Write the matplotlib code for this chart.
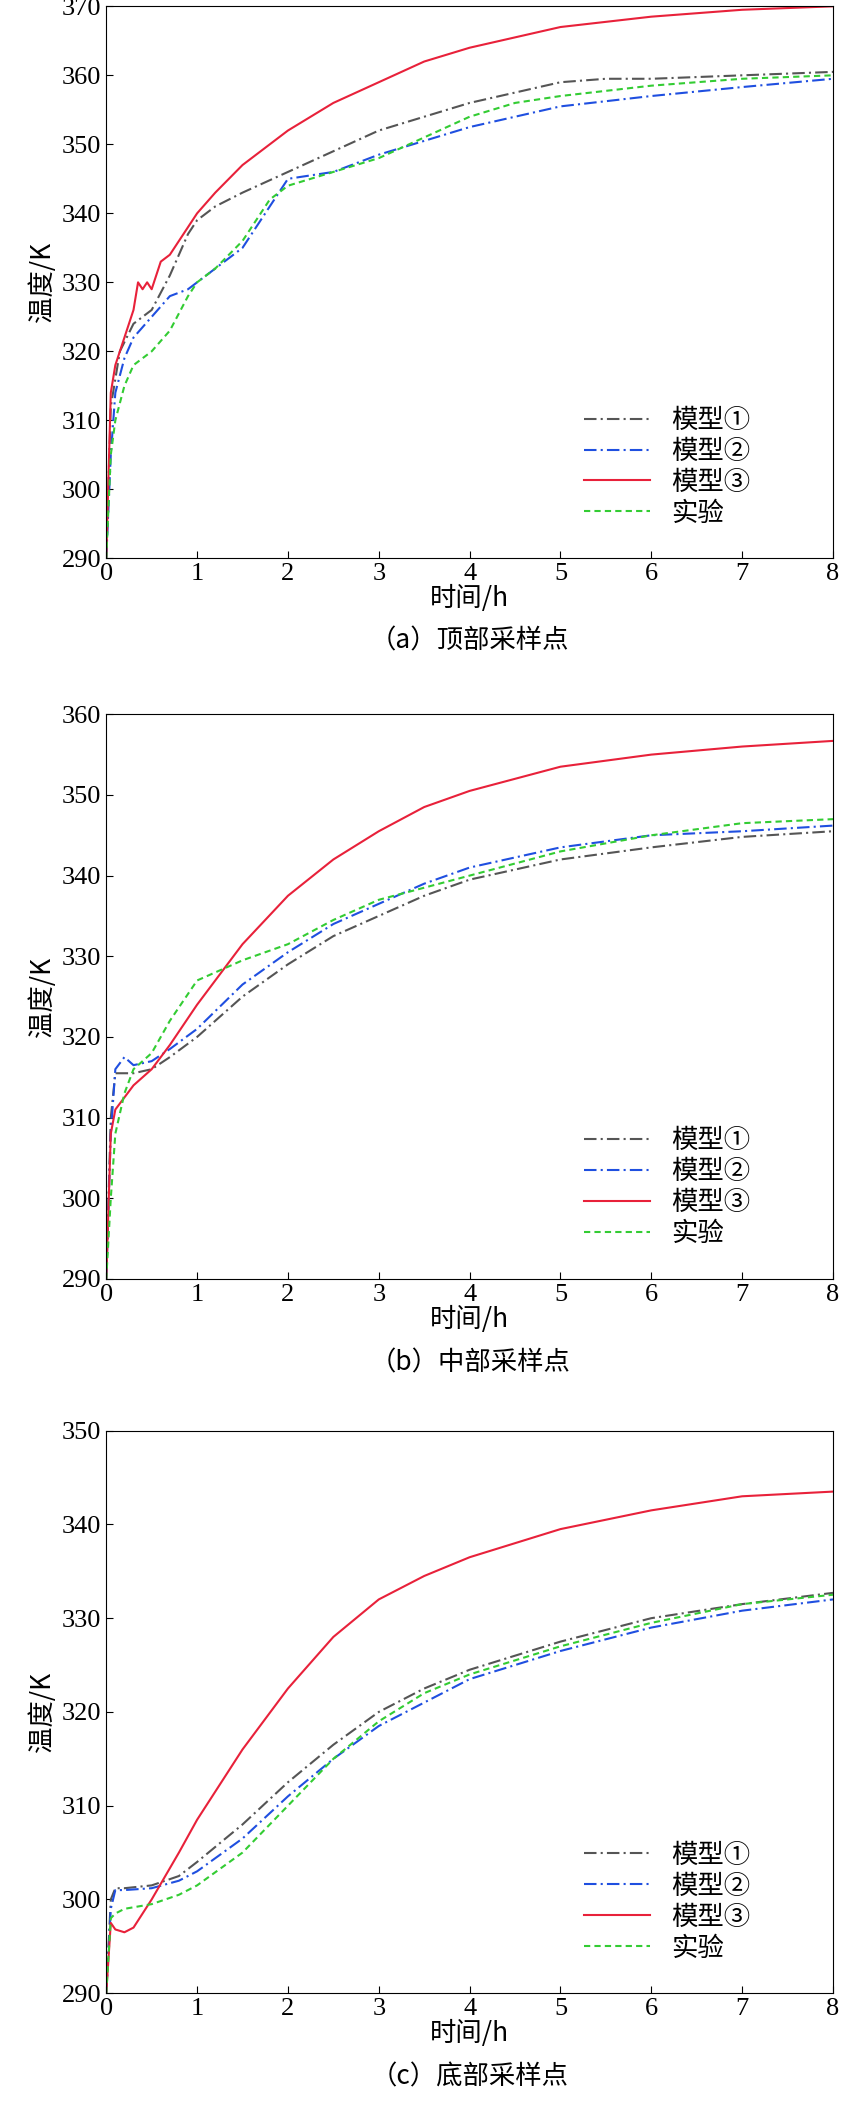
import matplotlib
matplotlib.use("Agg")
import matplotlib.pyplot as plt

cjk = "Noto Sans CJK SC"
num = "Liberation Serif"
plt.rcParams["font.family"] = [num, cjk]

# ---- data ----
a_t1 = [0,0.05,0.15,0.3,0.5,0.7,0.9,1.0,1.2,1.5,2,2.5,3,3.5,4,4.5,5,5.5,6,7,8]
a_m1 = [290,312,320,324,326,331,337,339,341,343,346,349,352,354,356,357.5,359,359.5,359.5,360,360.5]
a_t2 = [0,0.05,0.1,0.2,0.3,0.5,0.7,0.9,1.0,1.2,1.5,1.8,2,2.5,3,3.5,4,4.5,5,6,7,8]
a_m2 = [290,305,314,319,322,325,328,329,330,332,335,341,345,346,348.5,350.5,352.5,354,355.5,357,358.3,359.5]
a_t3 = [0,0.05,0.1,0.2,0.3,0.35,0.4,0.45,0.5,0.6,0.7,0.8,1,1.2,1.5,2,2.5,3,3.5,4,4.5,5,6,7,8]
a_m3 = [290,314,318,322,326,330,329,330,329,333,334,336,340,343,347,352,356,359,362,364,365.5,367,368.5,369.5,370]
a_te = [0,0.05,0.1,0.2,0.3,0.5,0.7,0.9,1.0,1.2,1.5,1.8,2,2.5,3,3.5,4,4.5,5,6,7,8]
a_ex = [290,305,310,315,318,320,323,328,330,332,336,342,344,346,348,351,354,356,357,358.5,359.5,360]

b_t = [0,0.05,0.1,0.2,0.3,0.5,0.7,1,1.5,2,2.5,3,3.5,4,5,6,7,8]
b_m1 = [290,310,315.5,315.5,315.5,316,317.5,320,325,329,332.5,335,337.5,339.5,342,343.5,344.8,345.5]
b_m2 = [290,308,316,317.5,316.5,317,318.5,321,326.5,330.5,334,336.5,339,341,343.5,345,345.5,346.2]
b_m3 = [290,308,311,312.5,314,316,319,324,331.5,337.5,342,345.5,348.5,350.5,353.5,355,356,356.7]
b_ex = [290,300,308,313,316,318,322,327,329.5,331.5,334.5,337,338.5,340,343,345,346.5,347]

c_t = [0,0.05,0.1,0.2,0.5,0.8,1,1.5,2,2.5,3,3.5,4,5,6,7,8]
c_m1 = [290,300,301.2,301.2,301.5,302.5,304,308,312.5,316.5,320,322.5,324.5,327.5,330,331.5,332.7]
c_m2 = [290,299,301,301,301.2,302,303,306.5,311,315,318.5,321,323.5,326.5,329,330.8,332]
c_t3 = [0,0.05,0.1,0.2,0.3,0.5,0.8,1,1.5,2,2.5,3,3.5,4,4.5,5,6,7,8]
c_m3 = [290,297.5,296.8,296.5,297,300,305,308.5,316,322.5,328,332,334.5,336.5,338,339.5,341.5,343,343.5]
c_ex = [290,298,298.5,299,299.5,300.5,301.5,305,310,315,319,322,324,327,329.5,331.5,332.5]

labels = ["模型①", "模型②", "模型③", "实验"]
captions = ["（a）顶部采样点", "（b）中部采样点", "（c）底部采样点"]

panels = [
    ([(a_t1,a_m1),(a_t2,a_m2),(a_t3,a_m3),(a_te,a_ex)], (290,370,10)),
    ([(b_t,b_m1),(b_t,b_m2),(b_t,b_m3),(b_t,b_ex)], (290,360,10)),
    ([(c_t,c_m1),(c_t,c_m2),(c_t3,c_m3),(c_t,c_ex)], (290,350,10)),
]
styles = [dict(color="#555555", ls=(0,(6,2,1,2))),
          dict(color="#1f4fe0", ls=(0,(6,2,1,2))),
          dict(color="#e8213a", ls="-"),
          dict(color="#33cc33", ls=(0,(3,2)))]

fig = plt.figure(figsize=(8.5, 21.07), dpi=100)
boxes = [(0.125, 0.735, 0.855, 0.262), (0.125, 0.393, 0.855, 0.268), (0.125, 0.054, 0.855, 0.267)]
for (series, (lo, hi, st)), box, cap in zip(panels, boxes, captions):
    ax = fig.add_axes(box)
    for (t, v), s, lab in zip(series, styles, labels):
        ax.plot(t, v, lw=1.5, label=lab, **s)
    ax.set_xlim(0, 8)
    ax.set_ylim(lo, hi)
    ax.set_xticks(range(0, 9))
    ax.set_yticks(range(lo, hi + 1, st))
    ax.tick_params(direction="in", labelsize=19, length=5)
    ax.set_ylabel("温度/K", fontsize=19, fontfamily=[cjk])
    ax.set_xlabel("时间/h", fontsize=19, fontfamily=[cjk], labelpad=0)
    ax.text(0.5, -0.125, cap, transform=ax.transAxes, ha="center", va="top",
            fontsize=19, fontfamily=[cjk])
    ax.legend(loc="lower right", bbox_to_anchor=(0.93, 0.0), frameon=False,
              prop={"family": cjk, "size": 19},
              handlelength=2.5, borderaxespad=0.8, labelspacing=0.15)
fig.savefig("out.png", dpi=100)
